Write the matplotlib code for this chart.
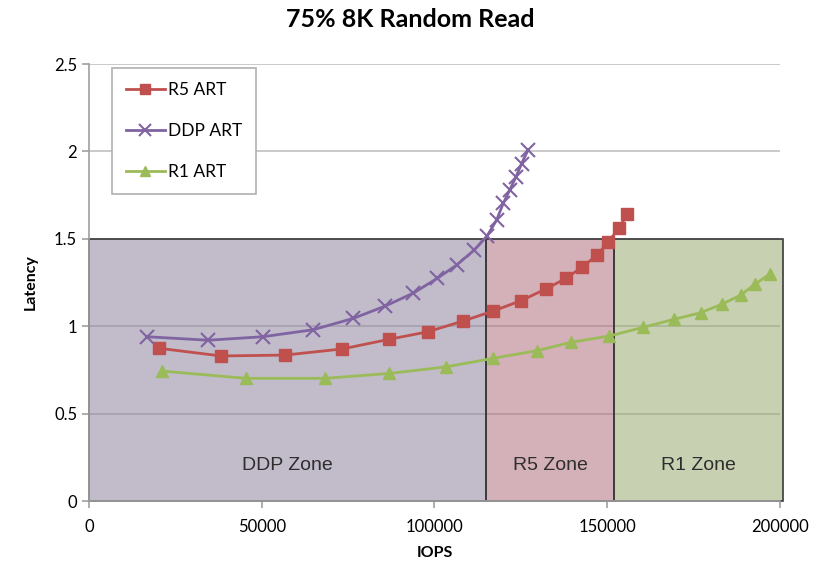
import numpy as np
import matplotlib
matplotlib.use('Agg')
import matplotlib.pyplot as plt
from matplotlib.patches import Rectangle

plt.rcParams['font.family'] = ['Lato', 'DejaVu Sans']

# series
r5_iops = [20300, 38200, 56700, 73300, 86800, 98000, 108300, 117000, 125000,
           132200, 138100, 142800, 147100, 150300, 153400, 155800]
r5_lat = [0.874, 0.83, 0.835, 0.87, 0.925, 0.968, 1.03, 1.087, 1.146,
          1.213, 1.274, 1.34, 1.407, 1.483, 1.56, 1.642]

ddp_iops = [16700, 34500, 50300, 64900, 76500, 85700, 93900, 100800, 106400,
            111500, 115200, 118000, 119900, 121800, 123600, 125200, 127100]
ddp_lat = [0.94, 0.92, 0.94, 0.98, 1.045, 1.115, 1.19, 1.274, 1.35,
           1.436, 1.516, 1.608, 1.703, 1.78, 1.855, 1.93, 2.01]

r1_iops = [21000, 45400, 68300, 86900, 103200, 116800, 129600, 139500, 150600,
           160400, 169400, 177000, 183300, 188600, 192800, 197100]
r1_lat = [0.744, 0.702, 0.702, 0.73, 0.767, 0.816, 0.86, 0.908, 0.944,
          0.994, 1.04, 1.077, 1.127, 1.178, 1.241, 1.299]

# zones: (label, start, end)
zone_names = ['DDP Zone', 'R5 Zone', 'R1 Zone']
zone_edges = [0, 115000, 152000, 201000]
zone_top = 1.5
zone_colors = ['#8f84a0', '#b16f7e', '#9baa73']

fig = plt.figure(figsize=(8.2, 5.66), dpi=100)
ax = fig.add_axes([0.1085, 0.1148, 0.8427, 0.772])

ax.set_xlim(0, 200000)
ax.set_ylim(0, 2.5)
ax.set_xticks([0, 50000, 100000, 150000, 200000])
ax.set_yticks([0, 0.5, 1, 1.5, 2, 2.5])
ax.set_yticklabels(['0', '0.5', '1', '1.5', '2', '2.5'])
ax.grid(axis='y', color='#c0c0c0', lw=1.2, zorder=0)
ax.set_axisbelow(True)
for s in ['top', 'right']:
    ax.spines[s].set_visible(False)
for s in ['left', 'bottom']:
    ax.spines[s].set_color('#a0a0a0')
    ax.spines[s].set_linewidth(1.2)
ax.tick_params(axis='both', colors='#a0a0a0', length=5, width=1.2,
               labelcolor='black', labelsize=12)
ax.tick_params(axis='x', pad=8)

for name, x0, x1, c in zip(zone_names, zone_edges[:-1], zone_edges[1:], zone_colors):
    ax.add_patch(Rectangle((x0, 0), x1 - x0, zone_top, facecolor=c, alpha=0.55,
                           edgecolor='none', zorder=1, clip_on=False))
    ax.add_patch(Rectangle((x0, 0), x1 - x0, zone_top, facecolor='none',
                           edgecolor='#3a3a3a', lw=1.2, zorder=1.5, clip_on=False))
    ax.text((x0 + x1) / 2, 0.205, name, ha='center', va='center', fontsize=14,
            color='#2e2e2e', family=['Liberation Sans Narrow', 'Liberation Sans'],
            zorder=2)

ax.plot(r5_iops, r5_lat, color='#c0504d', lw=2, marker='s', ms=8.5,
        label='R5 ART', zorder=3)
ax.plot(ddp_iops, ddp_lat, color='#8064a2', lw=2, marker='x', ms=10, mew=1.5,
        label='DDP ART', zorder=3)
ax.plot(r1_iops, r1_lat, color='#9bbb59', lw=2, marker='^', ms=9,
        label='R1 ART', zorder=3)

leg = ax.legend(loc='upper left', bbox_to_anchor=(0.034, 0.991), fontsize=12.5,
                labelspacing=1.45, handlelength=2.2, handletextpad=0.2,
                borderpad=0.8, borderaxespad=0, fancybox=False, framealpha=1,
                edgecolor='#b0b0b0', markerscale=0.8)
leg.get_frame().set_linewidth(1.2)
leg.set_zorder(5)

ax.set_xlabel('IOPS', fontsize=11.5, fontweight='bold', labelpad=8)
ax.set_ylabel('Latency', fontsize=11.5, fontweight='bold', labelpad=12)
fig.suptitle('75% 8K Random Read', fontsize=18, fontweight='bold', y=0.985)

fig.savefig('out.png', dpi=100)
